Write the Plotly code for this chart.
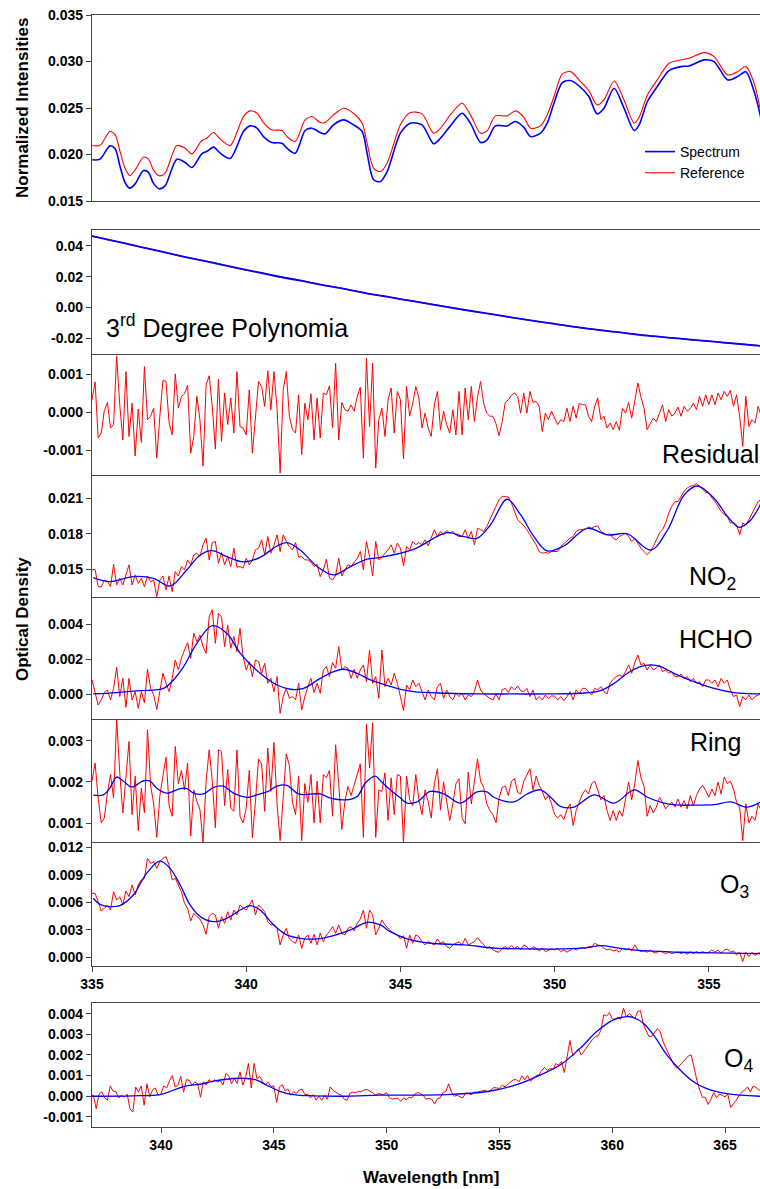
import numpy as np
import plotly.graph_objects as go

FONT = "Liberation Sans, Arial, sans-serif"
RED = "#ff0000"
BLUE = "#0000ff"
AXC = "#454545"

# ---------------- Panel 1: normalized intensities (units 1e-5) ----------------
wl_top = [335.01, 335.26, 335.58, 335.75, 335.91, 336.07, 336.23, 336.40, 336.67, 336.83,
          336.99, 337.18, 337.37, 337.75, 338.02, 338.24, 338.56, 338.72, 338.94, 339.16,
          339.48, 339.91, 340.13, 340.35, 340.56, 340.83, 341.16, 341.32, 341.59, 341.91,
          342.13, 342.40, 342.56, 342.83, 343.16, 343.48, 343.76, 343.92, 344.13,
          344.35, 344.57, 345.00, 345.32, 345.70, 346.08, 346.30, 346.62, 347.00, 347.27,
          347.60, 347.81, 348.08, 348.46, 348.73, 349.00, 349.22, 349.54, 349.76, 349.98,
          350.25, 350.52, 350.84, 351.11, 351.38, 351.60, 351.93, 352.25, 352.58, 352.74,
          353.01, 353.33, 353.71, 354.09, 354.36, 354.85, 355.17, 355.61, 355.93, 356.20,
          356.47, 356.69]
reference_top_e5 = [2096, 2100, 2247, 2211, 2032, 1853, 1774, 1835, 1971, 1950,
                    1835, 1771, 1800, 2096, 2068, 2007, 2150, 2175, 2236, 2165,
                    2096, 2408, 2469, 2444, 2344, 2265, 2258, 2193, 2140, 2372,
                    2408, 2344, 2344, 2426, 2498, 2444, 2337, 2122, 1853,
                    1817, 1907, 2319, 2451, 2437, 2229, 2283, 2426, 2551, 2426,
                    2229, 2254, 2415, 2415, 2469, 2401, 2283, 2308, 2426, 2623,
                    2866, 2891, 2784, 2687, 2533, 2587, 2791, 2587, 2337, 2401,
                    2641, 2802, 2981, 3017, 3035, 3095, 3053, 2856, 2891, 2945,
                    2766, 2444]
spectrum_top_e5 = [1943, 1950, 2093, 2061, 1871, 1699, 1638, 1685, 1828, 1807,
                   1692, 1631, 1663, 1950, 1914, 1860, 2007, 2032, 2079, 2014,
                   1957, 2247, 2308, 2283, 2193, 2129, 2122, 2068, 2014, 2258,
                   2283, 2236, 2222, 2319, 2372, 2319, 2247, 2014, 1728,
                   1710, 1817, 2229, 2337, 2319, 2115, 2175, 2308, 2444, 2337,
                   2129, 2158, 2308, 2308, 2355, 2294, 2193, 2229, 2337, 2552,
                   2773, 2795, 2723, 2623, 2437, 2498, 2713, 2498, 2258, 2319,
                   2570, 2731, 2902, 2945, 2952, 3017, 2999, 2802, 2838, 2891,
                   2677, 2390]

# ---------------- Panel 2: polynomial (units 1e-5) ----------------
wl_poly_fit = [335, 336, 337, 338, 339, 340, 341, 342, 343, 344, 345, 346,
               347, 348, 349, 350, 351, 352, 353, 354, 355, 356, 356.7]
poly_fit_e5 = [4640, 4190, 3740, 3290, 2870, 2450, 2030, 1650, 1270, 890, 550, 210,
               -130, -450, -770, -1060, -1350, -1590, -1830, -2010, -2190, -2370, -2500]
wl_poly_obs = [335.0, 335.5, 336.0, 336.5, 337.0, 337.5, 338.0, 338.5, 339.0, 339.5,
               340.0, 340.5, 341.0, 341.5, 342.0, 342.5, 343.0, 343.5, 344.0, 344.5,
               345.0, 345.5, 346.0, 346.5, 347.0, 347.5, 348.0, 348.5, 349.0, 349.5,
               350.0, 350.5, 351.0, 351.5, 352.0, 352.5, 353.0, 353.5, 354.0, 354.5,
               355.0, 355.5, 356.0, 356.5, 357.0]
poly_obs_e5 = [4660, 4410, 4220, 3950, 3760, 3500, 3270, 3100, 2900, 2640,
               2420, 2260, 2010, 1870, 1660, 1440, 1300, 1060, 870, 740,
               540, 400, 230, 20, -110, -300, -440, -630, -760, -930,
               -1050, -1220, -1340, -1480, -1600, -1700, -1820, -1930, -2000, -2120,
               -2180, -2300, -2360, -2470, -2540]

# ---------------- Fit panels, sampled every 0.1 nm from 335.0 nm (units 1e-5) ----------------
wl_start = 335.0
wl_step = 0.1

residual_e5 = [
    33, 80, -67, -54, 5, 26, -41, -32, 147, 20,
    -72, 107, -63, 24, -114, 9, -79, 120, -19, -10,
    11, -120, -10, 84, 81, -28, -59, 101, 11, 42,
    49, 71, -107, -63, 42, -19, -141, 72, 96, 16,
    -96, 87, -76, 51, -32, 38, -54, 107, -37, -41,
    -59, 59, -107, -20, 81, 68, 16, 109, 7, 107,
    11, -159, 59, 107, -10, -45, -54, 46, -111, 24,
    -19, 49, -72, 38, -67, 51, 46, 70, -41, 129,
    -72, 26, 7, 3, 20, 3, 42, 66, -120, 142,
    -37, 129, -146, -19, 11, -63, 33, 64, -54, 55,
    33, -122, 68, -10, 24, 68, 38, -41, -2, -41,
    -63, 20, 55, -45, 3, -32, -54, 7, -59, 55,
    -59, 64, -19, 68, -24, 40, 81, 24, -2, -10,
    -10, -30, -61, -24, 26, 33, 45, 51, 42, -2,
    51, -2, 55, 26, 29, 16, -50, -2, -19, 3,
    -15, -32, -19, -24, 11, -24, 16, -15, 24, 20,
    20, -10, -24, 16, 38, -19, -10, -41, -28, -45,
    -24, -47, 11, -2, 26, -15, 30, 77, 40, 11,
    -45, -30, -15, -24, 0, 20, -24, 7, -10, -2,
    14, -10, 16, 3, 10, 24, 7, 42, 16, 46,
    20, 46, 20, 51, 33, 55, 42, 58, 16, 46,
    -10, -89, 42, -37, -19, -28, 16, -10]

no2_obs_e5 = [
    1494, 1500, 1354, 1350, 1410, 1396, 1354, 1542, 1368, 1425,
    1367, 1452, 1537, 1367, 1452, 1381, 1424, 1353, 1443, 1395,
    1409, 1268, 1409, 1443, 1325, 1443, 1310, 1480, 1443, 1523,
    1494, 1579, 1537, 1622, 1636, 1608, 1707, 1763, 1579, 1726,
    1735, 1551, 1642, 1537, 1608, 1523, 1678, 1517, 1523, 1510,
    1593, 1537, 1579, 1664, 1678, 1749, 1622, 1777, 1636, 1700,
    1791, 1650, 1791, 1735, 1692, 1664, 1726, 1602, 1608, 1580,
    1579, 1560, 1523, 1542, 1438, 1494, 1585, 1424, 1409, 1450,
    1593, 1443, 1494, 1537, 1523, 1557, 1593, 1650, 1494, 1735,
    1608, 1443, 1735, 1579, 1602, 1636, 1664, 1707, 1636, 1721,
    1678, 1528, 1692, 1664, 1735, 1707, 1726, 1707, 1749, 1698,
    1763, 1834, 1777, 1820, 1791, 1828, 1806, 1820, 1791, 1777,
    1777, 1834, 1763, 1820, 1707, 1848, 1834, 1820, 1862, 1925,
    1975, 2032, 2089, 2117, 2117, 2111, 2060, 1990, 1919, 1891,
    1870, 1834, 1791, 1749, 1707, 1650, 1636, 1642, 1636, 1650,
    1650, 1650, 1692, 1715, 1735, 1763, 1777, 1820, 1834, 1840,
    1840, 1857, 1848, 1862, 1868, 1820, 1806, 1791, 1800, 1763,
    1749, 1777, 1791, 1806, 1777, 1735, 1763, 1721, 1678, 1650,
    1622, 1650, 1692, 1749, 1806, 1834, 1891, 1975, 2032, 2070,
    2074, 2117, 2159, 2188, 2202, 2208, 2224, 2202, 2174, 2150,
    2145, 2103, 2074, 2032, 1990, 1961, 1947, 1891, 1896, 1876,
    1791, 1891, 1876, 1919, 1975, 2032, 2074, 2090]

hcho_obs_e5 = [
    82, 15, -61, -32, 10, 25, -32, 34, 154, -13,
    91, -74, 91, -32, 15, -80, 15, -48, 143, 34,
    -4, -86, 25, 120, 63, 15, 91, 196, 139, 206,
    253, 295, 206, 349, 301, 339, 272, 234, 444, 482,
    291, 463, 440, 272, 396, 263, 330, 244, 377, 215,
    139, 187, 101, 196, 187, 120, 177, 63, 91, 15,
    101, -109, -13, 34, -23, -13, -32, 63, -90, -13,
    44, 91, 10, 63, 6, 139, 158, 101, 181, 149,
    272, 139, 158, 149, 91, 143, 91, 139, 168, 72,
    253, 63, 101, -23, 253, 44, 91, 53, 120, 63,
    -13, -93, 53, 25, 82, 44, 63, 15, -32, 25,
    -13, -32, 44, 63, -23, 25, -13, -32, 6, -13,
    6, -32, -4, -13, 15, 82, 25, 2, -13, -23,
    -32, 2, -32, 25, 34, 10, 44, 25, 48, 20,
    15, 34, -13, 25, -32, -13, -32, -4, -23, -10,
    -10, -32, -13, -36, -13, 15, -32, 25, 2, 34,
    34, 15, -4, 34, 25, 44, 15, 2, 63, 86,
    101, 110, 101, 130, 168, 120, 181, 225, 168, 177,
    139, 168, 139, 149, 168, 130, 139, 120, 130, 101,
    101, 116, 91, 101, 72, 91, 63, 72, 44, 82,
    82, 63, 82, 44, 91, 63, 82, 25, -13, -4,
    -70, -13, -32, -4, -32, -13, -4, 5]

ring_obs_e5 = [
    202, 246, 161, 101, 113, 173, 218, 161, 353, 222,
    125, 210, 298, 121, 214, 82, 185, 125, 327, 192,
    147, 66, 167, 214, 260, 143, 117, 286, 196, 228,
    181, 246, 69, 181, 153, 133, 53, 202, 278, 202,
    89, 278, 274, 143, 230, 137, 129, 278, 117, 101,
    137, 228, 65, 153, 256, 244, 129, 282, 177, 296,
    147, 58, 161, 268, 240, 151, 121, 214, 58, 196,
    151, 218, 101, 202, 101, 218, 210, 228, 117, 290,
    196, 85, 153, 189, 167, 192, 218, 244, 66, 340,
    234, 343, 66, 181, 177, 222, 107, 210, 121, 218,
    214, 53, 214, 157, 143, 218, 157, 121, 181, 153,
    113, 196, 232, 133, 200, 153, 107, 147, 196, 208,
    113, 99, 224, 147, 202, 256, 202, 187, 147, 131,
    121, 101, 161, 187, 190, 167, 202, 208, 175, 171,
    202, 218, 232, 181, 214, 192, 177, 157, 167, 147,
    121, 113, 121, 109, 133, 147, 95, 131, 151, 171,
    181, 171, 196, 202, 181, 157, 167, 131, 107, 131,
    107, 131, 117, 161, 200, 157, 196, 252, 210, 190,
    117, 143, 125, 139, 163, 151, 135, 143, 151, 139,
    159, 139, 155, 135, 167, 143, 167, 183, 192, 179,
    163, 183, 167, 200, 171, 212, 196, 202, 183, 151,
    139, 58, 147, 101, 117, 107, 147, 131]

o3_obs_e5 = [
    698, 698, 607, 505, 535, 564, 516, 716, 625, 662,
    571, 724, 662, 789, 680, 789, 844, 862, 1080, 1025,
    1044, 971, 1044, 1080, 1098, 1007, 844, 862, 789, 716,
    589, 535, 396, 480, 444, 418, 353, 251, 444, 480,
    462, 316, 444, 371, 498, 407, 516, 462, 571, 535,
    516, 571, 625, 462, 571, 535, 498, 389, 353, 360,
    316, 135, 244, 316, 200, 171, 153, 244, 98, 207,
    244, 153, 251, 135, 262, 171, 244, 280, 335, 262,
    353, 262, 244, 316, 335, 287, 371, 418, 516, 316,
    516, 462, 244, 316, 407, 353, 316, 280, 262, 244,
    200, 236, 98, 244, 153, 244, 225, 171, 135, 171,
    153, 135, 200, 153, 171, 116, 98, 135, 153, 171,
    135, 207, 135, 153, 171, 214, 171, 135, 98, 116,
    80, 62, 55, 98, 116, 98, 127, 98, 116, 80,
    135, 116, 80, 116, 98, 69, 98, 62, 80, 91,
    80, 98, 62, 80, 55, 80, 98, 80, 98, 105,
    98, 116, 116, 153, 135, 127, 98, 80, 91, 69,
    80, 55, 98, 80, 98, 69, 135, 80, 62, 69,
    55, 80, 55, 44, 69, 55, 40, 55, 40, 51,
    55, 40, 55, 33, 62, 40, 62, 44, 62, 47,
    55, 80, 55, 80, 44, 80, 91, 55, 69, 25,
    55, -47, 55, 7, 55, 18, 44, 55]

# fitted cross-section curves (knots, units 1e-5)
no2_fit_wl = [335.04, 335.58, 336.34, 336.99, 337.53, 338.07, 338.51, 338.89, 339.37, 339.91,
              340.45, 341.0, 341.32, 341.75, 342.3, 342.83, 343.38, 343.92, 344.35, 345.43,
              346.51, 347.06, 347.49, 347.92, 348.46, 348.9, 349.33, 349.76, 350.3, 351.06,
              351.71, 352.36, 353.12, 353.66, 354.2, 354.63, 355.17, 355.61, 355.98, 356.36, 356.69]
no2_fit_e5 = [1430, 1396, 1438, 1424, 1359, 1494, 1621, 1658, 1607, 1562,
              1601, 1697, 1725, 1663, 1523, 1452, 1523, 1585, 1601, 1669,
              1810, 1776, 1762, 1875, 2092, 1959, 1776, 1655, 1697, 1846,
              1790, 1799, 1663, 1832, 2128, 2204, 2100, 1945, 1855, 1917, 2058]

hcho_fit_wl = [335.04, 335.8, 336.56, 337.32, 337.64, 337.97, 338.4, 338.9, 339.37, 339.81,
               340.45, 341.0, 341.43, 341.86, 342.4, 342.84, 343.16, 343.6, 344.03, 344.35,
               344.89, 345.43, 346.51, 347.6, 348.68, 349.76, 350.84, 351.49, 351.93, 352.36,
               352.79, 353.12, 353.44, 353.87, 354.52, 355.17, 355.82, 356.69]
hcho_fit_e5 = [2, 10, 21, 34, 82, 158, 291, 392, 349, 234,
               120, 53, 29, 34, 91, 130, 143, 120, 82, 63,
               34, 15, 6, 2, 2, 2, 6, 21, 63, 120,
               158, 168, 158, 120, 72, 34, 10, 2]

ring_fit_wl = [335.04, 335.37, 335.58, 335.8, 336.02, 336.29, 336.67, 336.88, 337.1, 337.43,
               337.86, 338.08, 338.29, 338.62, 338.94, 339.26, 339.59, 340.02, 340.35, 340.67,
               341.0, 341.32, 341.7, 342.4, 342.73, 343.27, 343.6, 343.87, 344.19, 344.35,
               344.67, 345.0, 345.22, 345.54, 345.97, 346.41, 346.95, 347.49, 347.81, 348.03,
               348.68, 349.11, 349.54, 349.87, 350.19, 350.63, 351.28, 351.93, 352.58, 353.01,
               353.55, 354.09, 354.63, 355.17, 355.71, 356.25, 356.69]
ring_fit_e5 = [168, 169, 185, 212, 202, 188, 203, 202, 185, 173,
               184, 184, 173, 171, 187, 190, 173, 163, 169, 176,
               190, 192, 171, 171, 161, 157, 165, 198, 214, 203,
               181, 161, 149, 152, 177, 171, 149, 176, 176, 163,
               152, 171, 181, 163, 141, 139, 169, 149, 181, 163,
               149, 144, 144, 145, 152, 139, 152]

o3_fit_wl = [335.04, 335.26, 335.58, 335.9, 336.34, 336.77, 337.2, 337.53, 337.86, 338.18,
             338.51, 338.94, 339.37, 339.81, 340.13, 340.45, 340.89, 341.32, 341.75, 342.3,
             342.83, 343.38, 343.92, 344.35, 344.67, 345.22, 345.97, 347.06, 348.14, 349.22,
             350.3, 351.06, 351.49, 352.14, 353.01, 354.09, 355.17, 356.69]
o3_fit_e5 = [644, 578, 553, 564, 680, 916, 1050, 971, 789, 571,
             444, 389, 425, 516, 564, 516, 353, 244, 207, 200,
             236, 298, 382, 353, 280, 200, 153, 135, 98, 91,
             91, 105, 127, 98, 69, 55, 47, 40]

# ---------------- O4 panel (own window), sampled every 0.125 nm from 336.875 nm ----------------
o4_start = 336.875
o4_step = 0.125
o4_obs_e5 = [
    5,
    5, -60, 10, 22, -8, -19, 50, 24,
    22, -8, 5, -5, 10, -62, -76, 45,
    20, 50, -44, 60, -3, 30, 40, 5,
    13, 50, 40, 75, 100, 45, 54, 96,
    20, 80, 78, 54, 68, 60, -5, 70,
    54, 80, 68, 80, 70, 75, 55, 110,
    100, 60, 86, 62, 118, 54, 90, 159,
    40, 159, 85, 95, 70, 56, 68, 45,
    50, -30, 45, 55, 25, 35, 5, 22,
    13, 30, 35, 8, 10, -8, 8, -19,
    0, -20, 5, -15, 45, 28, 18, 10,
    5, -15, -20, 15, 20, 17, 24, 21,
    30, 33, 25, 18, 5, 13, 10, 8,
    18, -8, -15, -10, -10, -25, -8, -17,
    -5, -8, 10, 18, 13, 5, -15, -10,
    -15, -38, -11, -8, 18, 23, 60, 20,
    0, 5, -3, -8, 16, 13, 6, 20,
    20, 22, 24, 29, 20, 32, 42, 40,
    38, 54, 45, 58, 70, 80, 80, 70,
    99, 80, 100, 72, 85, 100, 103, 125,
    140, 125, 135, 130, 158, 151, 168, 115,
    190, 270, 195, 214, 230, 200, 220, 240,
    255, 275, 289, 293, 320, 395, 388, 405,
    375, 372, 382, 372, 427, 385, 400, 390,
    375, 410, 415, 350, 318, 290, 290, 310,
    328, 313, 265, 235, 208, 182, 148, 135,
    150, 162, 176, 195, 200, 135, 78, 30,
    -5, -5, -40, -15, 18, -8, 10, 5,
    -3, 10, -55, -36, -20, 5, 18, 30,
    45, 21, 50, 42, 30, 21]
o4_fit_wl = [336.9, 338.77, 339.95, 340.54, 341.13, 341.73, 342.32, 343.2, 343.79, 344.24,
             344.68, 345.27, 345.86, 346.75, 348.23, 349.7, 351.19, 352.66, 354.14, 355.03,
             355.92, 356.8, 357.69, 358.58, 359.31, 360.05, 360.64, 360.94, 361.38, 361.83,
             362.42, 363.01, 363.6, 364.19, 365.08, 366.55]
o4_fit_e5 = [0, 2, 8, 29, 50, 58, 73, 86, 86, 78,
             54, 24, 8, 2, 0, 5, 5, 8, 18, 34,
             62, 102, 151, 232, 313, 370, 386, 381, 354, 297,
             200, 127, 70, 37, 13, 0]

# tick labels
top_ticks = ["0.015", "0.020", "0.025", "0.030", "0.035"]
poly_ticks = ["-0.02", "0.00", "0.02", "0.04"]
res_ticks = ["-0.001", "0.000", "0.001"]
no2_ticks = ["0.015", "0.018", "0.021"]
hcho_ticks = ["0.000", "0.002", "0.004"]
ring_ticks = ["0.001", "0.002", "0.003"]
o3_ticks = ["0.000", "0.003", "0.006", "0.009", "0.012"]
o4_ticks = ["-0.001", "0.000", "0.001", "0.002", "0.003", "0.004"]
wl_ticks_main = [335, 340, 345, 350, 355]
wl_ticks_o4 = [340, 345, 350, 355, 360, 365]

# ---------------- build figure ----------------
S = 1e-5
def sc(a):
    return (np.array(a, dtype=float) * S).tolist()

wl_grid = (wl_start + wl_step * np.arange(len(residual_e5))).tolist()
o4_grid = (o4_start + o4_step * np.arange(len(o4_obs_e5))).tolist()

fig = go.Figure()

def axn(i):
    return ("x" if i == 1 else "x%d" % i), ("y" if i == 1 else "y%d" % i)

def red(x, y, i, w=1.0, shape="linear", name=None, legend=False):
    xa, ya = axn(i)
    fig.add_trace(go.Scatter(x=x, y=y, mode="lines", xaxis=xa, yaxis=ya, name=name,
                             showlegend=legend,
                             line=dict(color=RED, width=w, shape=shape, smoothing=0.8)))

def blue(x, y, i, w=1.3, name=None, legend=False, smoothing=1.0):
    xa, ya = axn(i)
    fig.add_trace(go.Scatter(x=x, y=y, mode="lines", xaxis=xa, yaxis=ya, name=name,
                             showlegend=legend,
                             line=dict(color=BLUE, width=w, shape="spline", smoothing=smoothing)))

# panel 1
blue(wl_top, sc(spectrum_top_e5), 1, w=1.6, name="Spectrum", legend=True, smoothing=0.8)
red(wl_top, sc(reference_top_e5), 1, w=1.1, shape="spline", name="Reference", legend=True)
# panel 2
red(wl_poly_obs, sc(poly_obs_e5), 2, w=1.2)
blue(wl_poly_fit, sc(poly_fit_e5), 2, w=1.8)
# panel 3
red(wl_grid, sc(residual_e5), 3)
# panels 4-7
red(wl_grid, sc(no2_obs_e5), 4)
blue(no2_fit_wl, sc(no2_fit_e5), 4)
red(wl_grid, sc(hcho_obs_e5), 5)
blue(hcho_fit_wl, sc(hcho_fit_e5), 5)
red(wl_grid, sc(ring_obs_e5), 6)
blue(ring_fit_wl, sc(ring_fit_e5), 6)
red(wl_grid, sc(o3_obs_e5), 7)
blue(o3_fit_wl, sc(o3_fit_e5), 7)
# panel 8
red(o4_grid, sc(o4_obs_e5), 8)
blue(o4_fit_wl, sc(o4_fit_e5), 8)

# ---------------- layout ----------------
W, HGT = 760, 1189
L, T, B = 92, 15, 62
PB = HGT - B
PH = PB - T
PW = W - L

def yf(px):
    return (PB - px) / PH

def xf(px):
    return (px - L) / PW

panels = [(15, 201), (229.9, 354), (354, 475), (475, 597.3), (597.3, 719),
          (719, 842.3), (842.3, 965.7), (1002.7, 1127)]
yranges = [(0.015, 0.035), (-0.0302, 0.0504), (-0.00164, 0.00153), (0.01263, 0.02297),
           (-0.00141, 0.00554), (0.00054, 0.003525), (-0.00092, 0.01255), (-0.00149, 0.00453)]
ytick_text = [top_ticks, poly_ticks, res_ticks, no2_ticks, hcho_ticks, ring_ticks, o3_ticks, o4_ticks]

tickfont = dict(family=FONT, size=14, color="#000000", weight="bold")
layout = dict(width=W, height=HGT, margin=dict(l=L, r=0, t=T, b=B, pad=0),
              paper_bgcolor="white", plot_bgcolor="white", font=dict(family=FONT, color="#000"))

for i in range(1, 9):
    k = "" if i == 1 else str(i)
    top, bot = panels[i - 1]
    xr = [336.94, 366.55] if i == 8 else [335.0, 356.66]
    show_x = i in (7, 8)
    xtv = wl_ticks_o4 if i == 8 else wl_ticks_main
    layout["xaxis" + k] = dict(domain=[0, 1], range=xr, anchor="y" + k, showline=True,
                               mirror=(i in (1, 2, 8)),
                               linecolor=AXC, linewidth=1.4, showgrid=False, zeroline=False,
                               ticks="outside" if show_x else "", ticklen=5, tickwidth=1.4,
                               tickcolor=AXC, showticklabels=show_x, tickvals=xtv,
                               ticktext=[str(v) for v in xtv], tickfont=tickfont)
    tt = ytick_text[i - 1]
    layout["yaxis" + k] = dict(domain=[yf(bot), yf(top)], range=list(yranges[i - 1]), anchor="x" + k,
                               showline=True, mirror=False, linecolor=AXC, linewidth=1.4,
                               showgrid=False, zeroline=False, ticks="outside", ticklen=5,
                               tickwidth=1.4, tickcolor=AXC, tickvals=[float(t) for t in tt],
                               ticktext=tt, tickfont=tickfont)

layout["legend"] = dict(x=xf(640), y=yf(136), xanchor="left", yanchor="top",
                        bgcolor="rgba(0,0,0,0)", font=dict(family=FONT, size=14, color="#000"),
                        tracegroupgap=0, itemwidth=30)

def ann(text, xpx, ypx, size=25, anchor="left", angle=0):
    return dict(text=text, x=xf(xpx), y=yf(ypx), xref="paper", yref="paper", showarrow=False,
                xanchor=anchor, yanchor="middle", textangle=angle,
                font=dict(family=FONT, size=size, color="#000"))

layout["annotations"] = [
    ann("3<sup>rd</sup> Degree Polynomia", 104, 326),
    ann("Residual", 660, 454),
    ann("NO<sub>2</sub>", 687, 578),
    ann("HCHO", 677, 639),
    ann("Ring", 688, 742),
    ann("O<sub>3</sub>", 718, 886),
    ann("O<sub>4</sub>", 722, 1060),
    ann("<b>Normalized Intensities</b>", 22, 108, size=17, anchor="center", angle=-90),
    ann("<b>Optical Density</b>", 22, 619, size=17, anchor="center", angle=-90),
    ann("<b>Wavelength [nm]</b>", 431, 1177, size=17, anchor="center"),
]

fig.update_layout(**layout)
fig.write_html("out.html")
